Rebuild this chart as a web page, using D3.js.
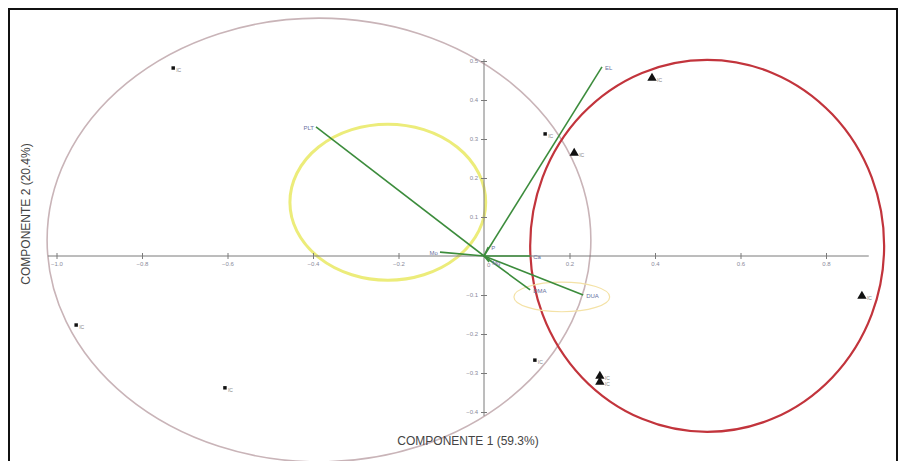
<!DOCTYPE html>
<html>
<head>
<meta charset="utf-8">
<script src="https://cdn.jsdelivr.net/npm/d3@7"></script>
<style>
  body { margin: 0; background: #fff; }
  svg { display: block; font-family: "Liberation Sans", Arial, sans-serif; }
</style>
</head>
<body>
<script>
// chart values (component scores)
var sampleX = [-0.727, 0.143, 0.211, 0.393, 0.884, -0.954, -0.606, 0.119, 0.271, 0.271];
var sampleY = [0.482, 0.313, 0.264, 0.456, -0.103, -0.177, -0.338, -0.267, -0.308, -0.323];
var sampleShape = ["square", "square", "tri", "tri", "tri", "square", "square", "square", "tri", "tri"];
var sampleLabel = ["IC", "IC", "IC", "IC", "IC", "IC", "IC", "IC", "IC", "IC"];

// loading vectors
var varNames = ["EL", "PLT", "DUA", "DMA", "Mo", "P", "Ca", "Mg"];
var varX = [0.276, -0.393, 0.232, 0.108, -0.103, 0.010, 0.108, 0.012];
var varY = [0.485, 0.331, -0.100, -0.087, 0.010, 0.023, 0.000, -0.015];

var xTicks = [-1.0, -0.8, -0.6, -0.4, -0.2, 0.2, 0.4, 0.6, 0.8];
var yTicks = [0.5, 0.4, 0.3, 0.2, 0.1, -0.1, -0.2, -0.3, -0.4];

// grouping ellipses (centre x, centre y, radius x, radius y in component units)
var ellCx = [-0.386, -0.225, 0.522, 0.182];
var ellCy = [0.041, 0.138, 0.026, -0.105];
var ellRx = [0.636, 0.229, 0.414, 0.112];
var ellRy = [0.569, 0.200, 0.477, 0.038];
var ellColor = ["#c9b4b8", "#ecec7a", "#c2343c", "#f4e2a6"];
var ellWidth = [1.6, 3, 2.2, 1.2];

var width = 901, height = 461;

var svg = d3.select("body").append("svg")
    .attr("width", width)
    .attr("height", height);

// frame
svg.append("rect")
    .attr("x", 9).attr("y", 9)
    .attr("width", 888).attr("height", 470)
    .attr("fill", "none")
    .attr("stroke", "#111")
    .attr("stroke-width", 2);

// scales: origin at (484, 256)
var x = d3.scaleLinear().domain([-1, 0.9]).range([56.5, 868.75]);
var y = d3.scaleLinear().domain([-0.4, 0.5]).range([412, 61]);

// ellipses
var ell = d3.range(ellCx.length);
svg.selectAll(".ell")
    .data(ell)
    .enter().append("ellipse")
    .attr("class", "ell")
    .attr("cx", function(i) { return x(ellCx[i]); })
    .attr("cy", function(i) { return y(ellCy[i]); })
    .attr("rx", function(i) { return x(ellRx[i]) - x(0); })
    .attr("ry", function(i) { return y(0) - y(ellRy[i]); })
    .attr("fill", "none")
    .attr("stroke", function(i) { return ellColor[i]; })
    .attr("stroke-width", function(i) { return ellWidth[i]; });

// axes through the origin
var axisColor = "#7a7a7a";
var gx = svg.append("g")
    .attr("transform", "translate(0," + y(0) + ")")
    .call(d3.axisBottom(x).tickValues(xTicks).tickSize(3)
        .tickFormat(d3.format(".1f")));
gx.select(".domain").attr("d", "M" + (x(-1.02)) + ",0H" + x(0.9));
gx.selectAll("line").attr("y1", -3);
var gy = svg.append("g")
    .attr("transform", "translate(" + x(0) + ",0)")
    .call(d3.axisLeft(y).tickValues(yTicks).tickSize(3)
        .tickFormat(d3.format(".1f")));
gy.select(".domain").attr("d", "M0," + y(-0.41) + "V" + y(0.505));
gy.selectAll("line").attr("x1", 3);
svg.selectAll(".domain, .tick line").attr("stroke", axisColor);
svg.selectAll(".tick text")
    .attr("fill", "#8a8a9a")
    .style("font-size", "6px");
svg.append("text")
    .attr("x", x(0) + 3).attr("y", y(0) + 11)
    .attr("fill", "#8a8a9a").style("font-size", "6px")
    .text("0");

// vectors
var vars = d3.range(varNames.length);
svg.selectAll(".vec")
    .data(vars)
    .enter().append("line")
    .attr("class", "vec")
    .attr("x1", x(0)).attr("y1", y(0))
    .attr("x2", function(i) { return x(varX[i]); })
    .attr("y2", function(i) { return y(varY[i]); })
    .attr("stroke", "#3c8c3c")
    .attr("stroke-width", 1.6);

svg.selectAll(".vlab")
    .data(vars)
    .enter().append("text")
    .attr("class", "vlab")
    .attr("x", function(i) { return x(varX[i]) + (varX[i] < -0.05 ? -2 : 3); })
    .attr("y", function(i) { return y(varY[i]) + 3; })
    .attr("text-anchor", function(i) { return varX[i] < -0.05 ? "end" : "start"; })
    .attr("fill", "#6a70a0")
    .style("font-size", "6px")
    .text(function(i) { return varNames[i]; });

// samples
var pts = d3.range(sampleX.length);
var sym = svg.selectAll(".pt")
    .data(pts)
    .enter().append("path")
    .attr("class", "pt")
    .attr("transform", function(i) {
        return "translate(" + x(sampleX[i]) + "," + y(sampleY[i]) + ")";
    })
    .attr("d", function(i) {
        return sampleShape[i] == "tri"
            ? d3.symbol().type(d3.symbolTriangle).size(38)()
            : d3.symbol().type(d3.symbolSquare).size(12)();
    })
    .attr("fill", "#111");

svg.selectAll(".plab")
    .data(pts)
    .enter().append("text")
    .attr("class", "plab")
    .attr("x", function(i) { return x(sampleX[i]) + (sampleShape[i] == "tri" ? 5 : 3); })
    .attr("y", function(i) { return y(sampleY[i]) + 4; })
    .attr("fill", "#888")
    .style("font-size", "5px")
    .text(function(i) { return sampleLabel[i]; });

// axis titles
svg.append("text")
    .attr("x", 468).attr("y", 445)
    .attr("text-anchor", "middle")
    .attr("fill", "#444")
    .style("font-size", "12px")
    .text("COMPONENTE 1 (59.3%)");
svg.append("text")
    .attr("transform", "translate(30,214) rotate(-90)")
    .attr("text-anchor", "middle")
    .attr("fill", "#444")
    .style("font-size", "12px")
    .text("COMPONENTE 2 (20.4%)");
</script>
</body>
</html>
